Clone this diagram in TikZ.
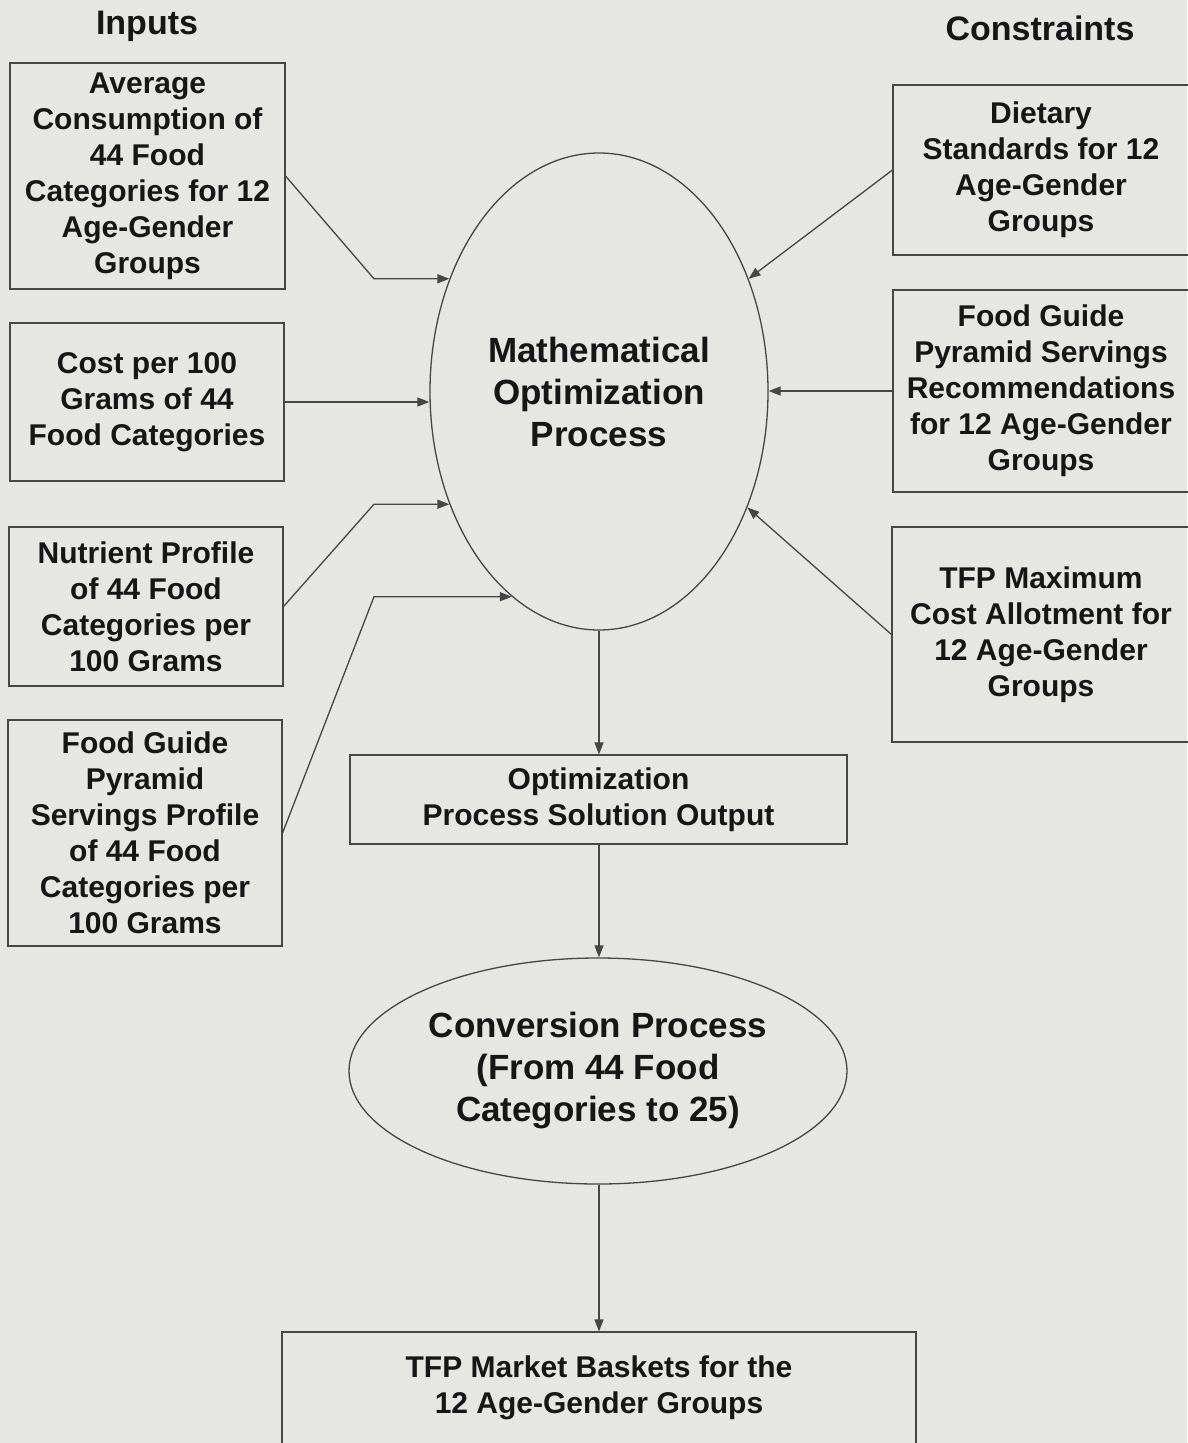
\documentclass[tikz,border=0pt]{standalone}
\usepackage{fontspec}
\setmainfont{Liberation Sans}
\usetikzlibrary{arrows.meta,shapes.geometric}
\definecolor{bgc}{RGB}{230,230,227}
\definecolor{linec}{RGB}{70,70,70}
\definecolor{txtc}{RGB}{22,22,22}
\begin{document}
\begin{tikzpicture}[x=1pt,y=-1pt,
  every node/.style={text=txtc},
  box/.style={draw=linec,line width=1.1pt,inner sep=0pt,align=center,
    font=\fontsize{30}{36}\selectfont\bfseries},
  big/.style={draw=linec,line width=1.3pt,ellipse,inner sep=0pt,align=center,
    font=\fontsize{35}{42}\selectfont\bfseries},
  head/.style={font=\fontsize{34}{40}\selectfont\bfseries},
  conn/.style={draw=linec,line width=1.3pt,-{Triangle[length=12pt,width=9pt]}}
]
\fill[bgc] (0,0) rectangle (1187,1443);
\useasboundingbox (0,0) rectangle (1187,1443);

\node[head] (hin) at (147,26) {Inputs};
\node[head] (hcon) at (1040,28) {Constraints};

\node[box,minimum width=275pt,minimum height=226pt] (b1) at (147.5,176)
  {Average\\Consumption of\\44 Food\\Categories for 12\\Age-Gender\\Groups};
\node[box,minimum width=274pt,minimum height=158pt] (b2) at (147,402)
  {Cost per 100\\Grams of 44\\Food Categories};
\node[box,minimum width=274pt,minimum height=159pt] (b3) at (146,606.5)
  {Nutrient Profile\\of 44 Food\\Categories per\\100 Grams};
\node[box,minimum width=274pt,minimum height=226pt] (b4) at (145,833)
  {Food Guide\\Pyramid\\Servings Profile\\of 44 Food\\Categories per\\100 Grams};

\node[box,minimum width=296pt,minimum height=170pt] (r1) at (1041,170)
  {Dietary\\Standards for 12\\Age-Gender\\Groups};
\node[box,minimum width=296pt,minimum height=202pt] (r2) at (1041,391)
  {Food Guide\\Pyramid Servings\\Recommendations\\for 12 Age-Gender\\Groups};
\node[box,minimum width=298pt,minimum height=215pt] (r3) at (1041,634.5)
  {TFP Maximum\\Cost Allotment for\\12 Age-Gender\\Groups};

\node[big,minimum width=338pt,minimum height=477pt] (opt) at (599,391.5)
  {Mathematical\\Optimization\\Process};
\node[box,minimum width=497pt,minimum height=89pt] (out) at (598.5,799.5)
  {Optimization\\Process Solution Output};
\node[big,minimum width=498pt,minimum height=226pt] (conv) at (598,1071)
  {Conversion Process\\(From 44 Food\\Categories to 25)};
\node[box,minimum width=634pt,minimum height=112pt] (bot) at (599,1388)
  {TFP Market Baskets for the\\12 Age-Gender Groups};

\coordinate (k1) at (374,0 |- opt.143.07);
\coordinate (k3) at (374,0 |- opt.217.6);
\coordinate (k4) at (374,0 |- opt.247.6);

\draw[conn] (b1.east) -- (k1) -- (opt.143.07);
\draw[conn] (b2.east) -- (b2.east -| opt.west);
\draw[conn] (b3.east) -- (k3) -- (opt.217.6);
\draw[conn] (b4.east) -- (k4) -- (opt.247.6);

\draw[conn] (r1.west) -- (opt.37.7);
\draw[conn] (r2.west) -- (r2.west -| opt.east);
\draw[conn] (r3.west) -- (opt.322.2);

\draw[conn] (opt.south) -- (opt.south |- out.north);
\draw[conn] (out.south -| opt.south) -- (opt.south |- conv.north);
\draw[conn] (conv.south -| opt.south) -- (opt.south |- bot.north);
\end{tikzpicture}
\end{document}
